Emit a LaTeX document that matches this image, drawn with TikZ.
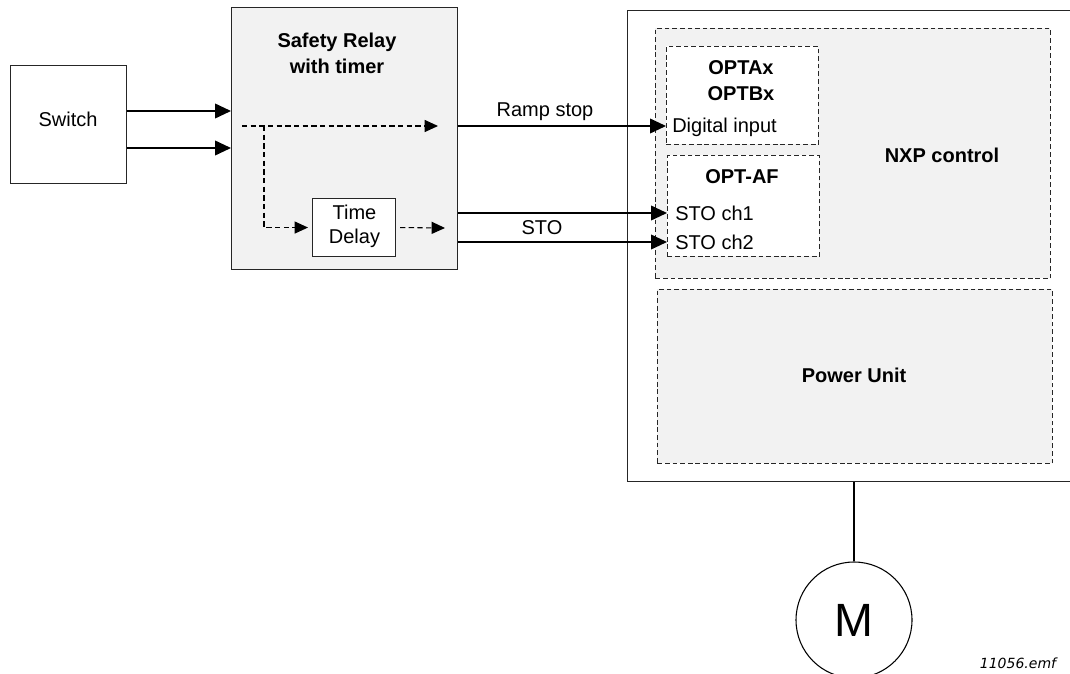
\documentclass[tikz,border=0pt]{standalone}
\usepackage{fontspec}
\setmainfont{Liberation Sans}
\newfontfamily\dvs{DejaVu Sans}
\usetikzlibrary{arrows.meta}
\newdimen\px \px=0.75pt
\definecolor{boxgray}{HTML}{F2F2F2}
\tikzset{
  box/.style={draw=black!85, line width=0.8pt, inner sep=0pt, anchor=north west},
  dbox/.style={draw=black!85, line width=0.7pt, dash pattern=on 3.5pt off 2.2pt, inner sep=0pt, anchor=north west},
  txt/.style={font=\fontsize{15}{19}\selectfont, inner sep=0pt, align=center},
  btxt/.style={font=\fontsize{15}{19.5}\selectfont\bfseries, inner sep=0pt, align=center},
  arr/.style={line width=1.3pt, -{Triangle[length=12pt,width=11pt]}},
  darr/.style={line width=0.8pt, dash pattern=on 4pt off 2.5pt, -{Triangle[length=10pt,width=9pt]}},
}
\begin{document}
\begin{tikzpicture}[x=0.75pt, y=-0.75pt]
\useasboundingbox (0,0) rectangle (1070,674);
\clip (0,0) rectangle (1070,674);
% boxes
\node[box, fill=white, minimum width=116\px, minimum height=118\px, txt] (sw) at (10,65) {};
\node[txt] (swt) at (68,119) {Switch};
\node[box, fill=boxgray, minimum width=226\px, minimum height=262\px] (relay) at (231,7) {};
\node[btxt] (relayt) at (337,53) {Safety Relay\\with timer};
\node[box, fill=white, minimum width=83\px, minimum height=58\px] (td) at (312,198) {};
\node[txt, font=\fontsize{15}{18}\selectfont] (tdt) at (354.5,226) {Time\\Delay};
% drive
\node[box, fill=white, minimum width=450\px, minimum height=471\px] (drive) at (627,10) {};
\node[dbox, fill=boxgray, minimum width=395\px, minimum height=250\px] (nxp) at (655,28) {};
\node[dbox, fill=white, minimum width=152\px, minimum height=98\px] (optab) at (666,46) {};
\node[dbox, fill=white, minimum width=152\px, minimum height=101\px] (optaf) at (667,155) {};
\node[dbox, fill=boxgray, minimum width=395\px, minimum height=174\px] (pu) at (657,289) {};
\node[btxt] (optabt) at (741,81) {OPTAx\\OPTBx};
\node[txt, anchor=west] (di) at (672,127) {Digital input};
\node[btxt] (optaft) at (742,177) {OPT-AF};
\node[txt, anchor=west] (ch1) at (675,213) {STO ch1};
\node[txt, anchor=west] (ch2) at (675,242) {STO ch2};
\node[btxt] (nxpt) at (942,155) {NXP control};
\node[btxt] (put) at (854,375) {Power Unit};
% motor
\node[draw=black, line width=0.8pt, circle, minimum size=116\px, inner sep=0pt, font=\fontsize{35}{40}\selectfont] (m) at (854,620) {M};
\node[inner sep=0pt, font=\dvs\itshape\fontsize{10.5}{12}\selectfont] (fn) at (1018,663) {11056.emf};
% switch arrows
\draw[arr] (sw.east |- 0,111) -- (relay.west |- 0,111);
\draw[arr] (sw.east |- 0,148) -- (relay.west |- 0,148);
% internal dashed
\coordinate (ds) at (242,126);
\coordinate (de) at (438,126);
\coordinate (br) at (264,126);
\coordinate (de2) at (445,228);
\draw[darr] (ds) -- (de);
\draw[darr] (br) -- (br |- td.west) -- ([xshift=-3pt]td.west);
\draw[darr] ([xshift=4\px]td.east) -- (de2);
% outputs
\draw[arr] (relay.east |- 0,126) -- (optab.west |- 0,126);
\draw[arr] (relay.east |- 0,213) -- (optaf.west |- 0,213);
\draw[arr] (relay.east |- 0,242) -- (optaf.west |- 0,242);
\node[txt] (rs) at (545,112) {Ramp stop};
\node[txt] (sto) at (542,228) {STO};
% motor line
\draw[line width=1.5pt] (m.north) -- (m.north |- drive.south);
\end{tikzpicture}
\end{document}
